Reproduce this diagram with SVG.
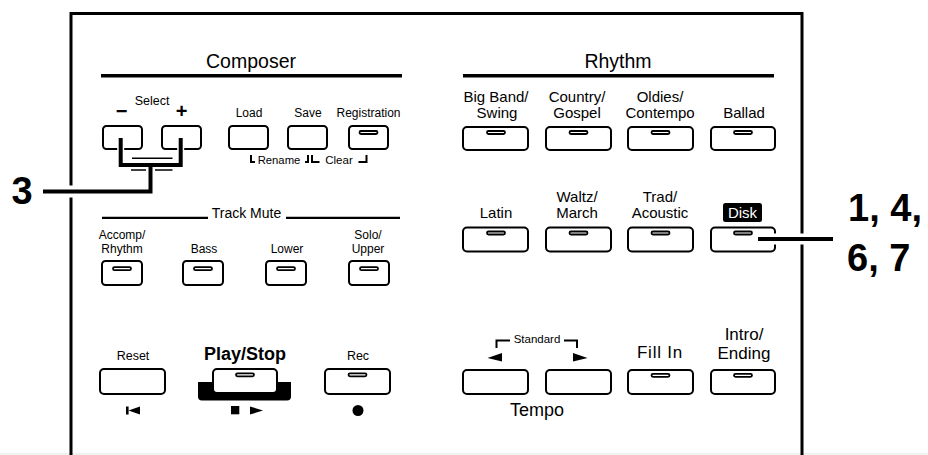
<svg xmlns="http://www.w3.org/2000/svg" width="928" height="455" viewBox="0 0 928 455">
<style>
.t{font-family:"Liberation Sans",Arial,Helvetica,sans-serif;fill:#000;text-anchor:middle}
.b{font-weight:bold}
.btn{fill:#fff;stroke:#000;stroke-width:2}
.led{fill:#fff;stroke:#000;stroke-width:1.8}
.ln{stroke:#000;fill:none}
.halo{stroke:#fff;fill:none}
.conn{stroke:#000;fill:none;stroke-width:4}
</style>
<rect width="928" height="455" fill="#fff"/>
<line x1="0" y1="454" x2="928" y2="454" stroke="#ececec" stroke-width="1.5"/>
<g id="panel">
<path class="ln" d="M71,470 V13.5 H802 V470" stroke-width="3"/>
<text class="t" x="251" y="68" font-size="19.5">Composer</text>
<line class="ln" x1="101" y1="75.8" x2="402" y2="75.8" stroke-width="3.5"/>
<text class="t" x="618" y="68" font-size="19.5">Rhythm</text>
<line class="ln" x1="463" y1="75.8" x2="774" y2="75.8" stroke-width="3.5"/>
</g>
<g id="select">
<text class="t" x="152" y="105" font-size="12.5">Select</text>
<text class="t b" x="121.7" y="118" font-size="20">−</text>
<text class="t b" x="181.7" y="118" font-size="20">+</text>
<rect class="btn" x="103" y="126" width="39" height="23" rx="3.5"/>
<rect class="btn" x="162" y="126" width="39" height="23" rx="3.5"/>
<line class="ln" x1="132" y1="158.3" x2="172.5" y2="158.3" stroke-width="1.6"/>
<line class="ln" x1="131" y1="170" x2="172.5" y2="170" stroke-width="1.6"/>
</g>
<g id="load">
<text class="t" x="249" y="117" font-size="12">Load</text>
<rect class="btn" x="229" y="126" width="39" height="23" rx="3.5"/>
</g>
<g id="save">
<text class="t" x="308" y="117" font-size="12">Save</text>
<rect class="btn" x="288" y="126" width="39" height="23" rx="3.5"/>
</g>
<g id="registration">
<text class="t" x="368.5" y="117" font-size="12">Registration</text>
<rect class="btn" x="349" y="126" width="39" height="23" rx="3.5"/>
<rect class="led" x="359.5" y="131" width="18" height="3" rx="1.5"/>
</g>
<g id="rename-clear">
<path class="ln" stroke-width="2" d="M251,155 V162 H255 M305,162 H308 V155 M312,155 V162 H319.5 M358.5,162 H366.5 V155"/>
<text class="t" x="279" y="164" font-size="11.3">Rename</text>
<text class="t" x="339" y="164" font-size="11.5">Clear</text>
</g>
<g id="track-mute">
<text class="t" x="246.5" y="218" font-size="14">Track Mute</text>
<line class="ln" x1="102" y1="217.8" x2="208" y2="217.8" stroke-width="2.2"/>
<line class="ln" x1="286" y1="217.8" x2="400" y2="217.8" stroke-width="2.2"/>
</g>
<g id="accomp">
<text class="t" x="122" y="239" font-size="12">Accomp/</text>
<text class="t" x="122" y="253" font-size="12">Rhythm</text>
<rect class="btn" x="102" y="261" width="40" height="24" rx="3.5"/>
<rect class="led" x="113" y="267.2" width="18" height="3" rx="1.5"/>
</g>
<g id="bass">
<text class="t" x="204" y="253" font-size="12">Bass</text>
<rect class="btn" x="183" y="261" width="40" height="24" rx="3.5"/>
<rect class="led" x="194" y="267.2" width="18" height="3" rx="1.5"/>
</g>
<g id="lower">
<text class="t" x="287" y="253" font-size="12">Lower</text>
<rect class="btn" x="266" y="261" width="40" height="24" rx="3.5"/>
<rect class="led" x="277" y="267.2" width="18" height="3" rx="1.5"/>
</g>
<g id="solo">
<text class="t" x="368" y="239" font-size="12">Solo/</text>
<text class="t" x="368" y="253" font-size="12">Upper</text>
<rect class="btn" x="349" y="261" width="40" height="24" rx="3.5"/>
<rect class="led" x="360" y="267.2" width="18" height="3" rx="1.5"/>
</g>
<g id="bigband">
<text class="t" x="496" y="101.5" font-size="15">Big Band/</text>
<text class="t" x="497" y="118" font-size="15">Swing</text>
<rect class="btn" x="463" y="127" width="65" height="23" rx="4"/>
<rect class="led" x="487" y="131" width="18" height="3" rx="1.5"/>
</g>
<g id="country">
<text class="t" x="577" y="101.5" font-size="15">Country/</text>
<text class="t" x="577" y="118" font-size="15">Gospel</text>
<rect class="btn" x="546" y="127" width="65" height="23" rx="4"/>
<rect class="led" x="569.5" y="131" width="18" height="3" rx="1.5"/>
</g>
<g id="oldies">
<text class="t" x="660" y="101.5" font-size="15">Oldies/</text>
<text class="t" x="660" y="118" font-size="15">Contempo</text>
<rect class="btn" x="628" y="127" width="65" height="23" rx="4"/>
<rect class="led" x="651.5" y="131" width="18" height="3" rx="1.5"/>
</g>
<g id="ballad">
<text class="t" x="744" y="118" font-size="15">Ballad</text>
<rect class="btn" x="711" y="127" width="64" height="23" rx="4"/>
<rect class="led" x="734" y="131" width="18" height="3" rx="1.5"/>
</g>
<g id="latin">
<text class="t" x="496" y="218" font-size="15">Latin</text>
<rect class="btn" x="463" y="227.5" width="65" height="24" rx="4"/>
<rect class="led" x="487" y="231.5" width="18" height="3" rx="1.5"/>
</g>
<g id="waltz">
<text class="t" x="577" y="201.5" font-size="15">Waltz/</text>
<text class="t" x="577" y="218" font-size="15">March</text>
<rect class="btn" x="546" y="227.5" width="65" height="24" rx="4"/>
<rect class="led" x="569.5" y="231.5" width="18" height="3" rx="1.5"/>
</g>
<g id="trad">
<text class="t" x="660" y="201.5" font-size="15">Trad/</text>
<text class="t" x="660" y="218" font-size="15">Acoustic</text>
<rect class="btn" x="628" y="227.5" width="65" height="24" rx="4"/>
<rect class="led" x="651.5" y="231.5" width="18" height="3" rx="1.5"/>
</g>
<g id="disk">
<rect x="723" y="203" width="39" height="19" rx="2.5" fill="#000"/>
<text class="t" x="742.5" y="218" font-size="15" style="fill:#fff">Disk</text>
<rect class="btn" x="711" y="227.5" width="64" height="24" rx="4"/>
<rect class="led" x="734" y="231.5" width="18" height="3" rx="1.5"/>
</g>
<g id="reset">
<text class="t" x="133" y="360" font-size="12.5">Reset</text>
<rect class="btn" x="100" y="369" width="65" height="25" rx="4"/>
<rect x="126" y="406.5" width="2.6" height="8" fill="#000"/>
<polygon points="128.5,410.5 140,406.5 140,414.5" fill="#000"/>
</g>
<g id="playstop">
<text class="t b" x="245" y="360" font-size="18">Play/Stop</text>
<path d="M198,382 H291 V396.5 Q291,400.5 287,400.5 H202 Q198,400.5 198,396.5 Z" fill="#000"/>
<rect class="btn" x="213" y="369" width="64" height="24" rx="4"/>
<rect class="led" x="236" y="373.3" width="18" height="3" rx="1.5"/>
<rect x="231" y="406" width="8.3" height="8.3" fill="#000"/>
<polygon points="250,406.5 263,410.5 250,414.5" fill="#000"/>
</g>
<g id="rec">
<text class="t" x="358" y="360" font-size="12.5">Rec</text>
<rect class="btn" x="325" y="369" width="65" height="25" rx="4"/>
<rect class="led" x="348.5" y="373.3" width="18" height="3" rx="1.5"/>
<circle cx="358" cy="410.5" r="5.5" fill="#000"/>
</g>
<g id="tempo">
<text class="t" x="537" y="343" font-size="11.5">Standard</text>
<path class="ln" stroke-width="2" d="M510,340.5 H496.5 V348 M564,340.5 H577 V348"/>
<polygon points="487.5,358 502,353 502,361.5" fill="#000"/>
<polygon points="573,353 573,361.5 587.5,358" fill="#000"/>
<rect class="btn" x="463" y="370" width="65" height="24" rx="4"/>
<rect class="btn" x="546" y="370" width="65" height="24" rx="4"/>
<text class="t" x="537" y="416" font-size="18">Tempo</text>
</g>
<g id="fillin">
<text class="t" x="660" y="358" font-size="17" letter-spacing="0.8">Fill In</text>
<rect class="btn" x="628" y="370" width="65" height="24" rx="4"/>
<rect class="led" x="651.5" y="373.8" width="18" height="3" rx="1.5"/>
</g>
<g id="intro">
<text class="t" x="744" y="339.5" font-size="17">Intro/</text>
<text class="t" x="744" y="358.5" font-size="17">Ending</text>
<rect class="btn" x="711" y="370" width="64" height="24" rx="4"/>
<rect class="led" x="734" y="373.8" width="18" height="3" rx="1.5"/>
</g>
<g id="connectors">
<path class="halo" stroke-width="7" d="M120.7,138 V161 M180.7,138 V161"/>
<path class="halo" stroke-width="9" d="M150.5,168 V191.5"/>
<path class="halo" stroke-width="12" d="M43,191.5 H150.5"/>
<path class="halo" stroke-width="11" d="M758,239 H833"/>
<path class="conn" stroke-linejoin="miter" d="M120.7,138 V165 H180.7 V138"/>
<path class="conn" d="M43,191.5 H150.5 V165"/>
<path class="conn" d="M758,239 H833"/>
</g>
<g id="labels">
<text class="t b" x="22" y="204" font-size="38">3</text>
<text class="t b" x="848" y="221" font-size="38" style="text-anchor:start">1, 4,</text>
<text class="t b" x="847" y="271" font-size="38" style="text-anchor:start">6, 7</text>
</g>
</svg>
